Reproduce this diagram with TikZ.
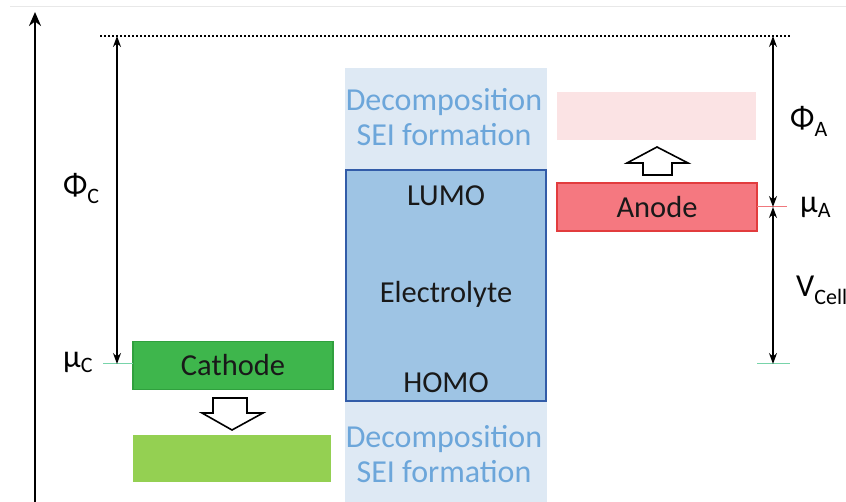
\documentclass[tikz,border=0pt]{standalone}
\usepackage{fontspec}
\setmainfont{Carlito}
\usetikzlibrary{arrows.meta}
\definecolor{catgreen}{RGB}{62,182,76}
\definecolor{catborder}{RGB}{48,160,62}
\definecolor{ltgreen}{RGB}{148,208,82}
\definecolor{anodefill}{RGB}{245,120,128}
\definecolor{anodeborder}{RGB}{226,60,62}
\definecolor{ltpink}{RGB}{251,227,228}
\definecolor{elbg}{RGB}{222,233,244}
\definecolor{elfill}{RGB}{158,196,228}
\definecolor{elborder}{RGB}{50,92,168}
\definecolor{decotext}{RGB}{108,166,218}
\definecolor{topline}{RGB}{232,232,232}
\definecolor{levgreen}{RGB}{120,212,170}
\definecolor{levred}{RGB}{240,120,125}
\newcommand{\bigtxt}{\fontsize{30.5}{35}\selectfont}
\newcommand{\decotxt}{\fontsize{32}{35}\selectfont}
\newcommand{\symtxt}{\fontsize{32}{32}\selectfont}
\newcommand{\subtxt}{\fontsize{22}{22}\selectfont}
\tikzset{
  levelbox/.style={minimum width=200pt, minimum height=48pt, inner sep=0pt, line width=1.2pt, font=\bigtxt, text=black!90},
  plainbox/.style={minimum width=199pt, minimum height=48pt, inner sep=0pt, draw=none},
  dimarrow/.style={line width=1.2pt, {Stealth[length=11pt,width=8pt]}-{Stealth[length=11pt,width=8pt]}},
  lbl/.style={anchor=west, inner sep=0pt},
  hollow/.style={draw=black, fill=white, line width=1.6pt, line join=miter},
  deco/.style={text=decotext, font=\decotxt, align=center, inner sep=0pt},
  eltxt/.style={font=\bigtxt, text=black!90, inner sep=0pt}
}
\begin{document}
\begin{tikzpicture}[x=1pt,y=-1pt]
\useasboundingbox (0,0) rectangle (846,502);
% faint top border
\coordinate (tl) at (10,7);
\coordinate (tr) at (846,7);
\draw[topline, line width=1pt] (tl) -- (tr);
% main axis
\coordinate (axb) at (35,502);
\coordinate (axt) at (35,12);
\draw[line width=2.6pt, -{Stealth[length=14pt,width=12pt]}] (axb) -- (axt);
% dotted vacuum level
\coordinate (dl) at (100,36);
\coordinate (dr) at (790,36);
\draw[line width=1.2pt, dash pattern=on 2pt off 2pt] (dl) -- (dr);
% electrolyte background
\node[fill=elbg, minimum width=202pt, minimum height=434pt, inner sep=0pt, anchor=north west] (elbgnode) at (345,68) {};
\node[deco] (decotop) at (444,117.5) {Decomposition\\SEI formation};
\node[deco] (decobot) at (444,454.5) {Decomposition\\SEI formation};
% electrolyte box
\node[fill=elfill, draw=elborder, line width=1.6pt, minimum width=200pt, minimum height=231pt, inner sep=0pt] (elec) at (446,285.5) {};
\node[eltxt] (lumo) at (446,196) {LUMO};
\node[eltxt] (elyte) at (446,294) {Electrolyte};
\node[eltxt] (homo) at (446,383) {HOMO};
% cathode
\node[levelbox, fill=catgreen, draw=catborder] (cath) at (233,365.5) {Cathode};
\node[plainbox, fill=ltgreen, minimum width=198pt, minimum height=47pt] (cathlow) at (232,458.5) {};
\draw[hollow] (213,398) -- (247,398) -- (247,413) -- (263,413) -- (232,430) -- (202,413) -- (213,413) -- cycle;
% anode
\node[levelbox, fill=anodefill, draw=anodeborder] (anode) at (657,207) {Anode};
\node[plainbox, fill=ltpink] (anodeup) at (656.5,116) {};
\draw[hollow] (643,175) -- (672,175) -- (672,163) -- (688,163) -- (657,147) -- (627,163) -- (643,163) -- cycle;
% cathode level marker and Phi_C
\coordinate (muCl) at (103,364);
\coordinate (muCr) at (133,364);
\draw[levgreen, line width=1pt] (muCl) -- (muCr);
\coordinate (phiCt) at (117,36);
\coordinate (phiCb) at (117,364);
\draw[dimarrow] (phiCt) -- (phiCb);
\node[lbl] (phiC) at (63,188) {\symtxt Φ\raisebox{-8pt}{\subtxt C}};
\node[lbl] (muC) at (63,362) {\symtxt μ\raisebox{-5pt}{\subtxt C}};
% anode level marker, Phi_A, V_cell
\coordinate (muAl) at (757,207);
\coordinate (muAr) at (787,207);
\draw[levred, line width=1pt] (muAl) -- (muAr);
\coordinate (vl) at (757,364);
\coordinate (vr) at (790,364);
\draw[levgreen, line width=1pt] (vl) -- (vr);
\coordinate (phiAt) at (773,36);
\coordinate (phiAb) at (773,207);
\coordinate (vct) at (773,207);
\coordinate (vcb) at (773,364);
\draw[dimarrow] (phiAt) -- (phiAb);
\draw[dimarrow] (vct) -- (vcb);
\node[lbl] (phiA) at (790,121) {\symtxt Φ\raisebox{-8pt}{\subtxt A}};
\node[lbl] (muA) at (800,207) {\symtxt μ\raisebox{-5pt}{\subtxt A}};
\node[lbl] (vcell) at (796,290) {\symtxt V\raisebox{-8pt}{\subtxt Cell}};
\end{tikzpicture}
\end{document}
